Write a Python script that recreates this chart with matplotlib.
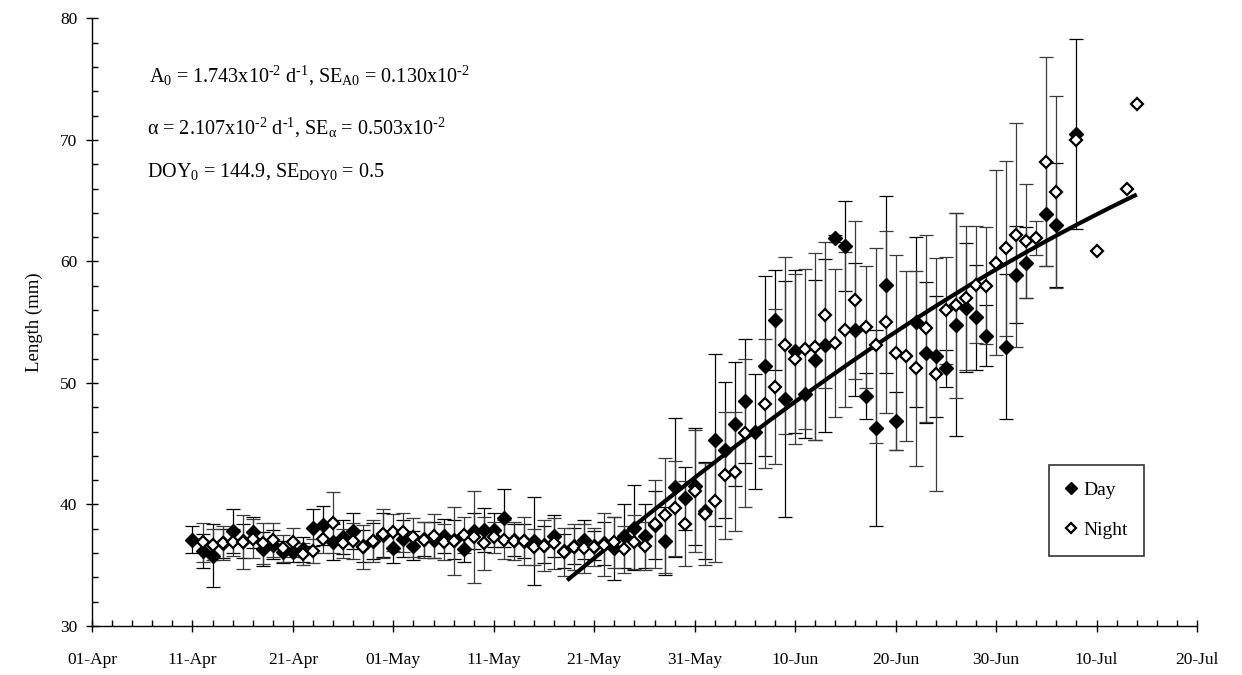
import numpy as np
import matplotlib
matplotlib.use('Agg')
import matplotlib.pyplot as plt

plt.rcParams['font.family'] = ['Liberation Serif', 'DejaVu Serif']
plt.rcParams['mathtext.fontset'] = 'custom'
plt.rcParams['mathtext.rm'] = 'Liberation Serif'
plt.rcParams['mathtext.it'] = 'Liberation Serif:italic'

nan = np.nan

# sampling days, day-of-year (101 = 11-Apr ... 195 = 14-Jul)
sample_doy = np.arange(101, 196)

day_mean = [
    37.1, 36.2, 35.8, 36.8, 37.8, 37.0, 37.7, 36.3, 36.7, 36.1,
    36.1, 36.3, 38.1, 38.3, 36.9, 37.3, 37.8, 36.6, 37.0, 37.5,
    36.4, 37.2, 36.6, 37.2, 37.1, 37.4, 37.1, 36.3, 37.8, 37.9,
    37.9, 38.9, 37.1, 37.0, 37.0, 36.7, 37.4, 36.2, 36.6, 37.1,
    36.6, 36.8, 36.4, 37.4, 38.1, 37.4, 38.3, 37.0, 41.4, 40.5,
    41.5, 39.5, 45.3, 44.5, 46.6, 48.5, 46.0, 51.4, 55.2, 48.7,
    52.6, 49.1, 51.9, 53.1, 61.9, 61.3, 54.4, 48.9, 46.3, 58.1,
    46.9, nan, 55.0, 52.5, 52.2, 51.2, 54.8, 56.2, 55.4, 53.9,
    nan, 53.0, 58.9, 59.9, nan, 63.9, 63.0, nan, 70.5, nan,
    nan, nan, nan, nan, nan,
]
day_sd = [
    1.1, 1.4, 2.6, 1.2, 1.8, 1.4, 1.3, 1.4, 1.2, 0.9,
    0.8, 1.0, 1.5, 1.6, 1.5, 1.4, 1.5, 1.3, 1.5, 1.8,
    1.2, 1.5, 1.2, 1.4, 1.5, 1.4, 1.6, 1.0, 1.5, 1.8,
    1.4, 2.4, 1.3, 1.4, 3.6, 1.5, 1.7, 1.4, 1.5, 1.6,
    1.2, 1.8, 2.6, 2.6, 3.5, 2.6, 2.8, 2.8, 5.7, 2.6,
    4.8, 4.0, 7.1, 5.6, 5.1, 5.1, 4.7, 7.4, 4.1, 9.7,
    6.7, 3.6, 6.6, 7.1, 0.3, 3.7, 5.5, 1.9, 8.1, 7.3,
    2.4, nan, 7.0, 5.8, 5.0, 1.5, 9.2, 5.3, 4.3, 2.5,
    nan, 6.0, 4.0, 2.9, nan, 4.3, 5.1, nan, 7.8, nan,
    nan, nan, nan, nan, nan,
]
night_mean = [
    nan, 36.9, 36.7, 36.8, 36.9, 36.9, 37.2, 36.8, 37.1, 36.4,
    36.9, 35.9, 36.2, 37.2, 38.5, 36.8, 37.0, 36.5, 37.0, 37.6,
    37.7, 37.7, 37.3, 37.1, 37.4, 36.9, 37.0, 37.5, 37.3, 36.8,
    37.3, 37.1, 37.0, 37.0, 36.5, 36.6, 36.8, 36.1, 36.5, 36.4,
    36.5, 36.7, 36.9, 36.3, 36.9, 36.6, 38.4, 39.1, 39.7, 38.4,
    41.1, 39.2, 40.3, 42.4, 42.7, 45.9, nan, 48.3, 49.7, 53.1,
    52.0, 52.8, 53.0, 55.6, 53.3, 54.4, 56.8, 54.6, 53.1, 55.0,
    52.5, 52.2, 51.2, 54.5, 50.7, 56.0, 56.4, 57.0, 58.1, 58.0,
    59.9, 61.1, 62.2, 61.7, 61.9, 68.2, 65.7, nan, 70.0, nan,
    60.9, nan, nan, 66.0, 73.0,
]
night_sd = [
    nan, 1.6, 1.3, 1.4, 1.1, 2.2, 1.6, 1.7, 1.4, 1.1,
    1.2, 0.9, 1.0, 1.2, 2.5, 1.2, 1.5, 1.8, 1.7, 2.0,
    1.5, 1.6, 1.6, 1.5, 1.8, 1.5, 2.8, 1.5, 3.8, 2.2,
    1.3, 1.6, 1.6, 2.0, 1.5, 2.1, 2.1, 2.0, 1.9, 2.0,
    1.6, 2.6, 2.1, 1.9, 2.2, 2.0, 3.6, 4.7, 3.9, 3.5,
    5.0, 4.2, 5.0, 5.2, 4.9, 6.1, nan, 5.3, 6.4, 7.3,
    7.0, 6.6, 7.7, 6.0, 6.1, 6.4, 6.5, 5.0, 8.0, 7.5,
    8.0, 7.0, 8.0, 7.7, 9.6, 4.4, 7.6, 5.9, 4.8, 4.8,
    7.6, 7.2, 9.2, 4.7, 1.4, 8.6, 7.9, nan, nan, nan,
    nan, nan, nan, nan, nan,
]

# growth model parameters (Gompertz)
A0 = 1.743e-2
alpha = 2.107e-2
doy0 = 144.9
L0 = 38.2
fit_start, fit_end = 138.3, 195.0

tick_labels = ['01-Apr', '11-Apr', '21-Apr', '01-May', '11-May', '21-May',
               '31-May', '10-Jun', '20-Jun', '30-Jun', '10-Jul', '20-Jul']

day_mean = np.array(day_mean)
day_sd = np.array(day_sd)
night_mean = np.array(night_mean)
night_sd = np.array(night_sd)

fig = plt.figure(figsize=(12.42, 6.75), dpi=100)
ax = fig.add_axes([0.0741, 0.0726, 0.8897, 0.9000])

ok = ~np.isnan(day_mean) & ~np.isnan(day_sd)
ax.errorbar(sample_doy[ok], day_mean[ok], yerr=day_sd[ok], fmt='none',
            ecolor='black', elinewidth=0.9, capsize=5, capthick=0.9, zorder=2)
ok = ~np.isnan(night_mean) & ~np.isnan(night_sd)
ax.errorbar(sample_doy[ok], night_mean[ok], yerr=night_sd[ok], fmt='none',
            ecolor='#3a3a3a', elinewidth=0.9, capsize=5, capthick=0.9, zorder=2)

t = np.linspace(fit_start, fit_end, 200)
fit = L0 * np.exp(A0 / alpha * (1 - np.exp(-alpha * (t - doy0))))
ax.plot(t, fit, color='black', lw=3, solid_capstyle='butt', zorder=3)

ax.plot(sample_doy, day_mean, 'D', ms=6.8, mfc='black', mec='black',
        ls='none', label='Day', zorder=4)
ax.plot(sample_doy, night_mean, 'D', ms=6.2, mfc='white', mec='black',
        mew=1.6, ls='none', label='Night', zorder=5)

ax.set_xlim(91, 201)
ax.set_ylim(30, 80)
ax.set_xticks(np.arange(91, 202, 10))
ax.set_xticklabels(tick_labels)
ax.set_xticks(np.arange(91, 202, 2), minor=True)
ax.set_yticks(np.arange(30, 81, 10))
ax.set_yticks(np.arange(30, 81, 2), minor=True)
ax.tick_params(which='major', direction='inout', length=9, width=1,
               labelsize=12.5, pad=14)
ax.tick_params(which='minor', direction='in', length=4, width=1)
ax.tick_params(axis='y', which='major', pad=6)
for s in ['top', 'right']:
    ax.spines[s].set_visible(False)
for s in ['left', 'bottom']:
    ax.spines[s].set_linewidth(1)
ax.set_ylabel('Length (mm)', fontsize=13.5, labelpad=12)

fs = 14.5
ax.text(0.052, 0.905,
        r'A$_{\rm 0}$ = 1.743x10$^{\text{-2}}$ d$^{\text{-1}}$, SE$_{\rm A0}$ = 0.130x10$^{\text{-2}}$',
        transform=ax.transAxes, fontsize=fs, va='center')
ax.text(0.050, 0.820,
        r'α = 2.107x10$^{\text{-2}}$ d$^{\text{-1}}$, SE$_{\rm α}$ = 0.503x10$^{\text{-2}}$',
        transform=ax.transAxes, fontsize=fs, va='center')
ax.text(0.050, 0.748,
        r'DOY$_{\rm 0}$ = 144.9, SE$_{\rm DOY0}$ = 0.5',
        transform=ax.transAxes, fontsize=fs, va='center')

leg = ax.legend(loc='upper left', bbox_to_anchor=(0.866, 0.265),
                borderaxespad=0, frameon=True, fancybox=False,
                edgecolor='black', fontsize=14, handlelength=0.6,
                handletextpad=0.3, labelspacing=1.15, borderpad=0.85,
                markerscale=0.9)
leg.get_frame().set_linewidth(1.2)

fig.savefig('out.png', dpi=100)
